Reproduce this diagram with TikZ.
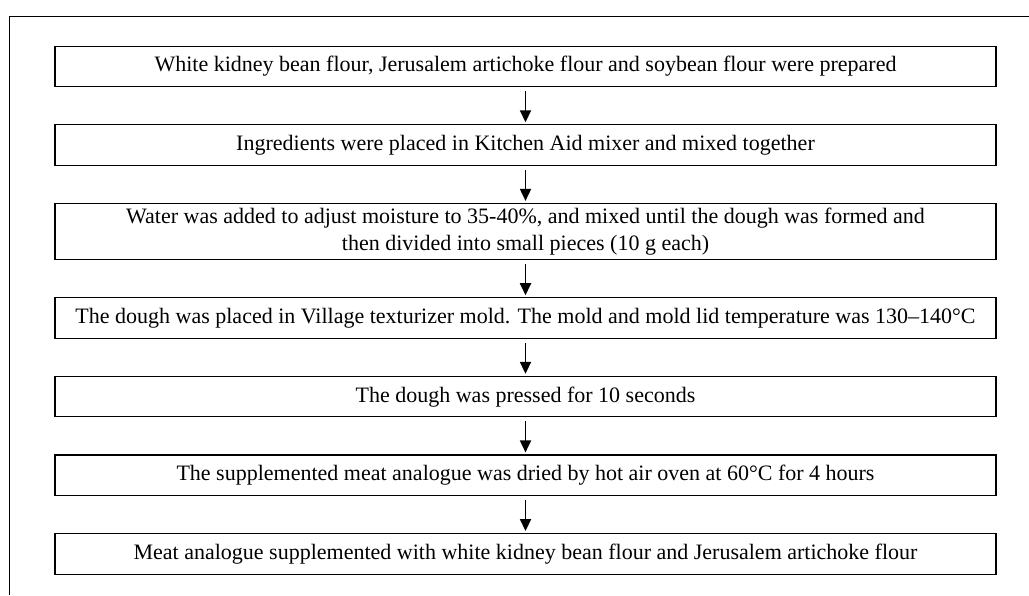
\documentclass[tikz,border=0pt]{standalone}
\usepackage{fontspec}
\setmainfont{Liberation Serif}
\usepackage{tikz}
\usetikzlibrary{arrows.meta, positioning}

\begin{document}
\begin{tikzpicture}[
    x=1pt, y=1pt,
    node distance=37pt,
    stepbox/.style={
      rectangle, draw, line width=1.1pt,
      minimum width=941pt, minimum height=40.5pt,
      font=\fontsize{22}{27}\selectfont, align=center,
      inner xsep=3pt, inner ysep=4.5pt
    },
    arr/.style={-{Triangle[length=12pt,width=11pt]}, line width=1.8pt,
                shorten <=4pt, shorten >=2pt}
  ]

    % page margins and outer frame
    \useasboundingbox (0,0) rectangle (1029,-595);
    \draw[line width=1pt] (9,-595) |- (1029,-16);

    % Steps
    \node[stepbox] (flour) at (525.5,-66.5)
      {White kidney bean flour, Jerusalem artichoke flour and soybean flour were prepared};
    \node[stepbox, below=of flour] (mix)
      {Ingredients were placed in Kitchen Aid mixer and mixed together};
    \node[stepbox, below=of mix] (water)
      {Water was added to adjust moisture to 35-40\%, and mixed until the dough was formed and\\
       then divided into small pieces (10 g each)};
    \node[stepbox, below=of water] (mold)
      {The dough was placed in Village texturizer mold. The mold and mold lid temperature was 130--140°C};
    \node[stepbox, below=of mold] (press)
      {The dough was pressed for 10 seconds};
    \node[stepbox, below=of press] (dry)
      {The supplemented meat analogue was dried by hot air oven at 60°C for 4 hours};
    \node[stepbox, below=of dry] (product)
      {Meat analogue supplemented with white kidney bean flour and Jerusalem artichoke flour};

    % Arrows
    \draw[arr] (flour) -- (mix);
    \draw[arr] (mix)   -- (water);
    \draw[arr] (water) -- (mold);
    \draw[arr] (mold)  -- (press);
    \draw[arr] (press) -- (dry);
    \draw[arr] (dry)   -- (product);

  \end{tikzpicture}
\end{document}
